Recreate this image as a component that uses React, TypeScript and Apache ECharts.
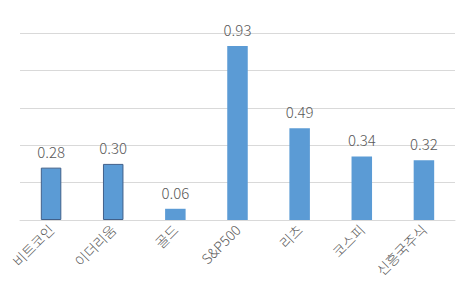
import React, { useEffect, useRef } from "react";
import * as echarts from "echarts";

const categories = ["비트코인", "이더리움", "골드", "S&P500", "리츠", "코스피", "신흥국주식"];
const values = [0.28, 0.3, 0.06, 0.93, 0.49, 0.34, 0.32];
const outlined = [true, true, false, false, false, false, false];

export default function App() {
  const ref = useRef<HTMLDivElement>(null);
  useEffect(() => {
    document.body.style.margin = "0";
    const chart = echarts.init(ref.current!, null, { renderer: "svg" });
    chart.setOption({
      animation: false,
      grid: { left: 20, right: 12, top: 33, bottom: 73, containLabel: false },
      xAxis: {
        type: "category",
        data: categories,
        axisLine: { show: true, lineStyle: { color: "#D9D9D9", width: 1 } },
        axisTick: { show: false },
        axisLabel: {
          rotate: 45,
          interval: 0,
          margin: 7,
          color: "#595959",
          fontSize: 14,
          fontWeight: 300,
          fontFamily: "Noto Sans CJK KR",
        },
      },
      yAxis: {
        type: "value",
        min: 0,
        max: 1,
        interval: 0.2,
        axisLabel: { show: false },
        axisLine: { show: false },
        axisTick: { show: false },
        splitLine: { lineStyle: { color: "#D9D9D9", width: 1 } },
      },
      series: [
        {
          type: "bar",
          barWidth: "33%",
          data: values.map((v, i) => ({
            value: v,
            itemStyle: outlined[i]
              ? { color: "#5B9BD5", borderColor: "#41608A", borderWidth: 1 }
              : { color: "#5B9BD5" },
          })),
          label: {
            show: true,
            position: "top",
            distance: 9,
            color: "#595959",
            fontSize: 15,
            fontWeight: 300,
            fontFamily: "Noto Sans CJK KR",
            formatter: (p: any) => p.value.toFixed(2),
          },
        },
      ],
    });
    return () => chart.dispose();
  }, []);
  return <div ref={ref} style={{ width: 467, height: 293 }} />;
}
